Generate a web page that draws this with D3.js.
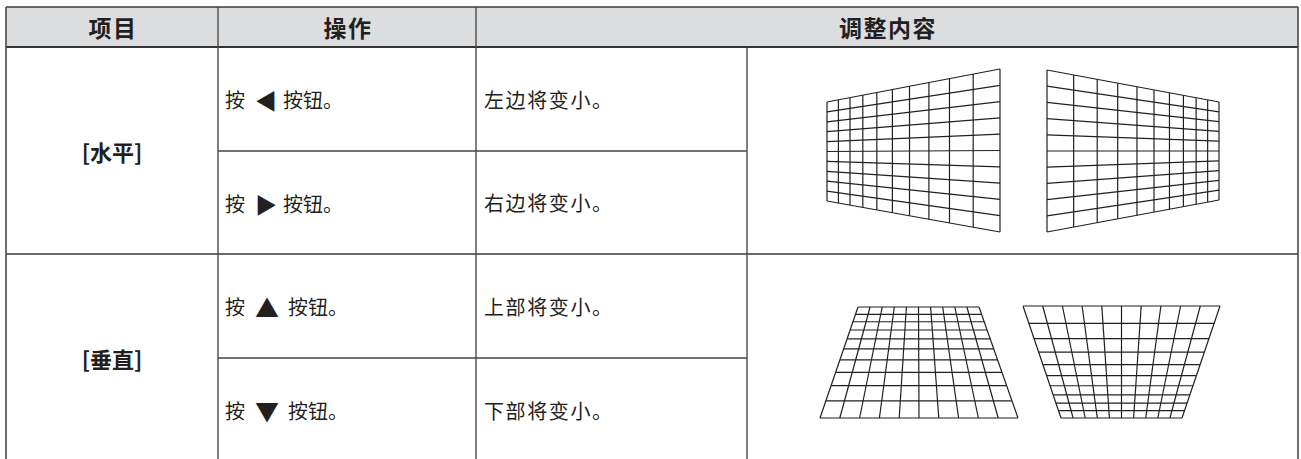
<!DOCTYPE html>
<html><head><meta charset="utf-8">
<script src="https://cdn.jsdelivr.net/npm/d3@7"></script>
<style>body{margin:0;background:#fff}svg{display:block}</style>
</head><body>
<svg id="c" width="1301" height="459"></svg>
<script>
const headers = ["项目", "操作", "调整内容"];
const items = ["[水平]", "[垂直]"];
const buttons = [["◀", "▶"], ["▲", "▼"]];
const opPrefix = "按";
const opSuffix = "按钮。";
const results = [["左边将变小。", "右边将变小。"], ["上部将变小。", "下部将变小。"]];
// spacing of grid lines measured from the narrow side of each keystone grid (fraction of grid depth)
const perspectiveSpacing = [0, 0.066, 0.133, 0.207, 0.288, 0.378, 0.477, 0.589, 0.708, 0.845, 1];
const evenSpacing = [0, 0.1, 0.2, 0.3, 0.4, 0.5, 0.6, 0.7, 0.8, 0.9, 1];

const svg = d3.select("#c");
const ink = "#231f20";
const font = "'Noto Sans CJK SC','Noto Sans CJK JP',sans-serif";

// table layout
const colX = [6, 218, 476, 747, 1298];
const headY = [7, 47];
const rowY = [[47, 151, 254], [254, 358, 462]];

// header background
svg.append("rect").attr("x", colX[0]).attr("y", headY[0]).attr("width", colX[4]-colX[0]).attr("height", headY[1]-headY[0]).attr("fill", "#dcdddf");

// header texts
const headSpans = [[colX[0], colX[1]], [colX[1], colX[2]], [colX[2], colX[4]]];
headers.forEach((h, i) => {
  svg.append("text").attr("x", (headSpans[i][0]+headSpans[i][1])/2 + 1).attr("y", (headY[0]+headY[1])/2)
    .attr("text-anchor", "middle").attr("dominant-baseline", "central")
    .attr("font-family", font).attr("font-weight", 700).attr("font-size", 23).attr("letter-spacing", 1.5).attr("fill", ink).text(h);
});

// body
items.forEach((it, r) => {
  const [y0, ym, y1] = rowY[r];
  svg.append("text").attr("x", (colX[0]+colX[1])/2).attr("y", (y0+y1)/2)
    .attr("text-anchor", "middle").attr("dominant-baseline", "central")
    .attr("font-family", font).attr("font-weight", 700).attr("font-size", 22).attr("fill", ink).text(it);
  [[y0, ym], [ym, y1]].forEach((span, k) => {
    const cy = (span[0]+span[1])/2;
    const t = svg.append("text").attr("y", cy).attr("dominant-baseline", "central")
      .attr("font-family", font).attr("font-size", 20).attr("fill", ink);
    const x0 = colX[1] + 7;
    t.append("tspan").attr("x", x0).text(opPrefix);
    const vertical = r === 1;
    t.append("tspan").attr("x", x0 + (vertical ? 30 : 30)).attr("font-size", vertical ? 24 : 22).text(buttons[r][k]);
    t.append("tspan").attr("x", x0 + (vertical ? 63 : 58)).text(opSuffix);
    svg.append("text").attr("x", colX[2]+8).attr("y", cy).attr("dominant-baseline", "central")
      .attr("font-family", font).attr("font-size", 20).attr("letter-spacing", 1.6).attr("fill", ink).text(results[r][k]);
  });
});

// table lines
const lines = svg.append("g").attr("fill", "none");
function seg(x1, y1, x2, y2, c, w) {
  lines.append("line").attr("x1", x1).attr("y1", y1).attr("x2", x2).attr("y2", y2).attr("stroke", c).attr("stroke-width", w);
}
seg(colX[0], headY[0], colX[4], headY[0], "#3a3a3a", 1.5);
seg(colX[0], headY[1], colX[4], headY[1], "#333", 2);
seg(colX[0], rowY[1][0], colX[4], rowY[1][0], "#6b6b6b", 2.2);
// sub-row separators
rowY.forEach(r => seg(colX[1], r[1], colX[3], r[1], "#444", 1.3));
// verticals
seg(colX[0], headY[0], colX[0], 459, "#4a4a4a", 1.6);
seg(colX[4], headY[0], colX[4], 459, "#4a4a4a", 1.6);
seg(colX[1], headY[0], colX[1], 459, "#4a4a4a", 1.4);
seg(colX[2], headY[0], colX[2], 459, "#4a4a4a", 1.4);
seg(colX[3], headY[1], colX[3], 459, "#4a4a4a", 1.4);

// keystone grids
const gg = svg.append("g").attr("fill", "none").attr("stroke", ink).attr("stroke-width", 1.2);
function lineG(x1, y1, x2, y2) {
  gg.append("line").attr("x1", x1).attr("y1", y1).attr("x2", x2).attr("y2", y2);
}
// horizontal keystone: verticals follow perspective spacing from the narrow side
function hGrid(xNarrow, narrowTop, narrowBot, xWide, wideTop, wideBot) {
  const xs = d3.scaleLinear().domain([0, 1]).range([xNarrow, xWide]);
  const top = d3.scaleLinear().domain([xNarrow, xWide]).range([narrowTop, wideTop]);
  const bot = d3.scaleLinear().domain([xNarrow, xWide]).range([narrowBot, wideBot]);
  perspectiveSpacing.forEach(f => { const x = xs(f); lineG(x, top(x), x, bot(x)); });
  const nY = d3.scaleLinear().domain([0, 1]).range([narrowTop, narrowBot]);
  const wY = d3.scaleLinear().domain([0, 1]).range([wideTop, wideBot]);
  evenSpacing.forEach(f => lineG(xNarrow, nY(f), xWide, wY(f)));
}
function vGrid(yNarrow, narrowL, narrowR, yWide, wideL, wideR) {
  const ys = d3.scaleLinear().domain([0, 1]).range([yNarrow, yWide]);
  const left = d3.scaleLinear().domain([yNarrow, yWide]).range([narrowL, wideL]);
  const right = d3.scaleLinear().domain([yNarrow, yWide]).range([narrowR, wideR]);
  perspectiveSpacing.forEach(f => { const y = ys(f); lineG(left(y), y, right(y), y); });
  const nX = d3.scaleLinear().domain([0, 1]).range([narrowL, narrowR]);
  const wX = d3.scaleLinear().domain([0, 1]).range([wideL, wideR]);
  evenSpacing.forEach(f => lineG(nX(f), yNarrow, wX(f), yWide));
}
hGrid(827, 102, 201, 1000, 69, 232);
hGrid(1219, 102, 200, 1047, 70, 232);
vGrid(307, 858, 979, 418, 820, 1018);
vGrid(418, 1061, 1182, 306, 1023, 1220);
</script>
</body></html>
